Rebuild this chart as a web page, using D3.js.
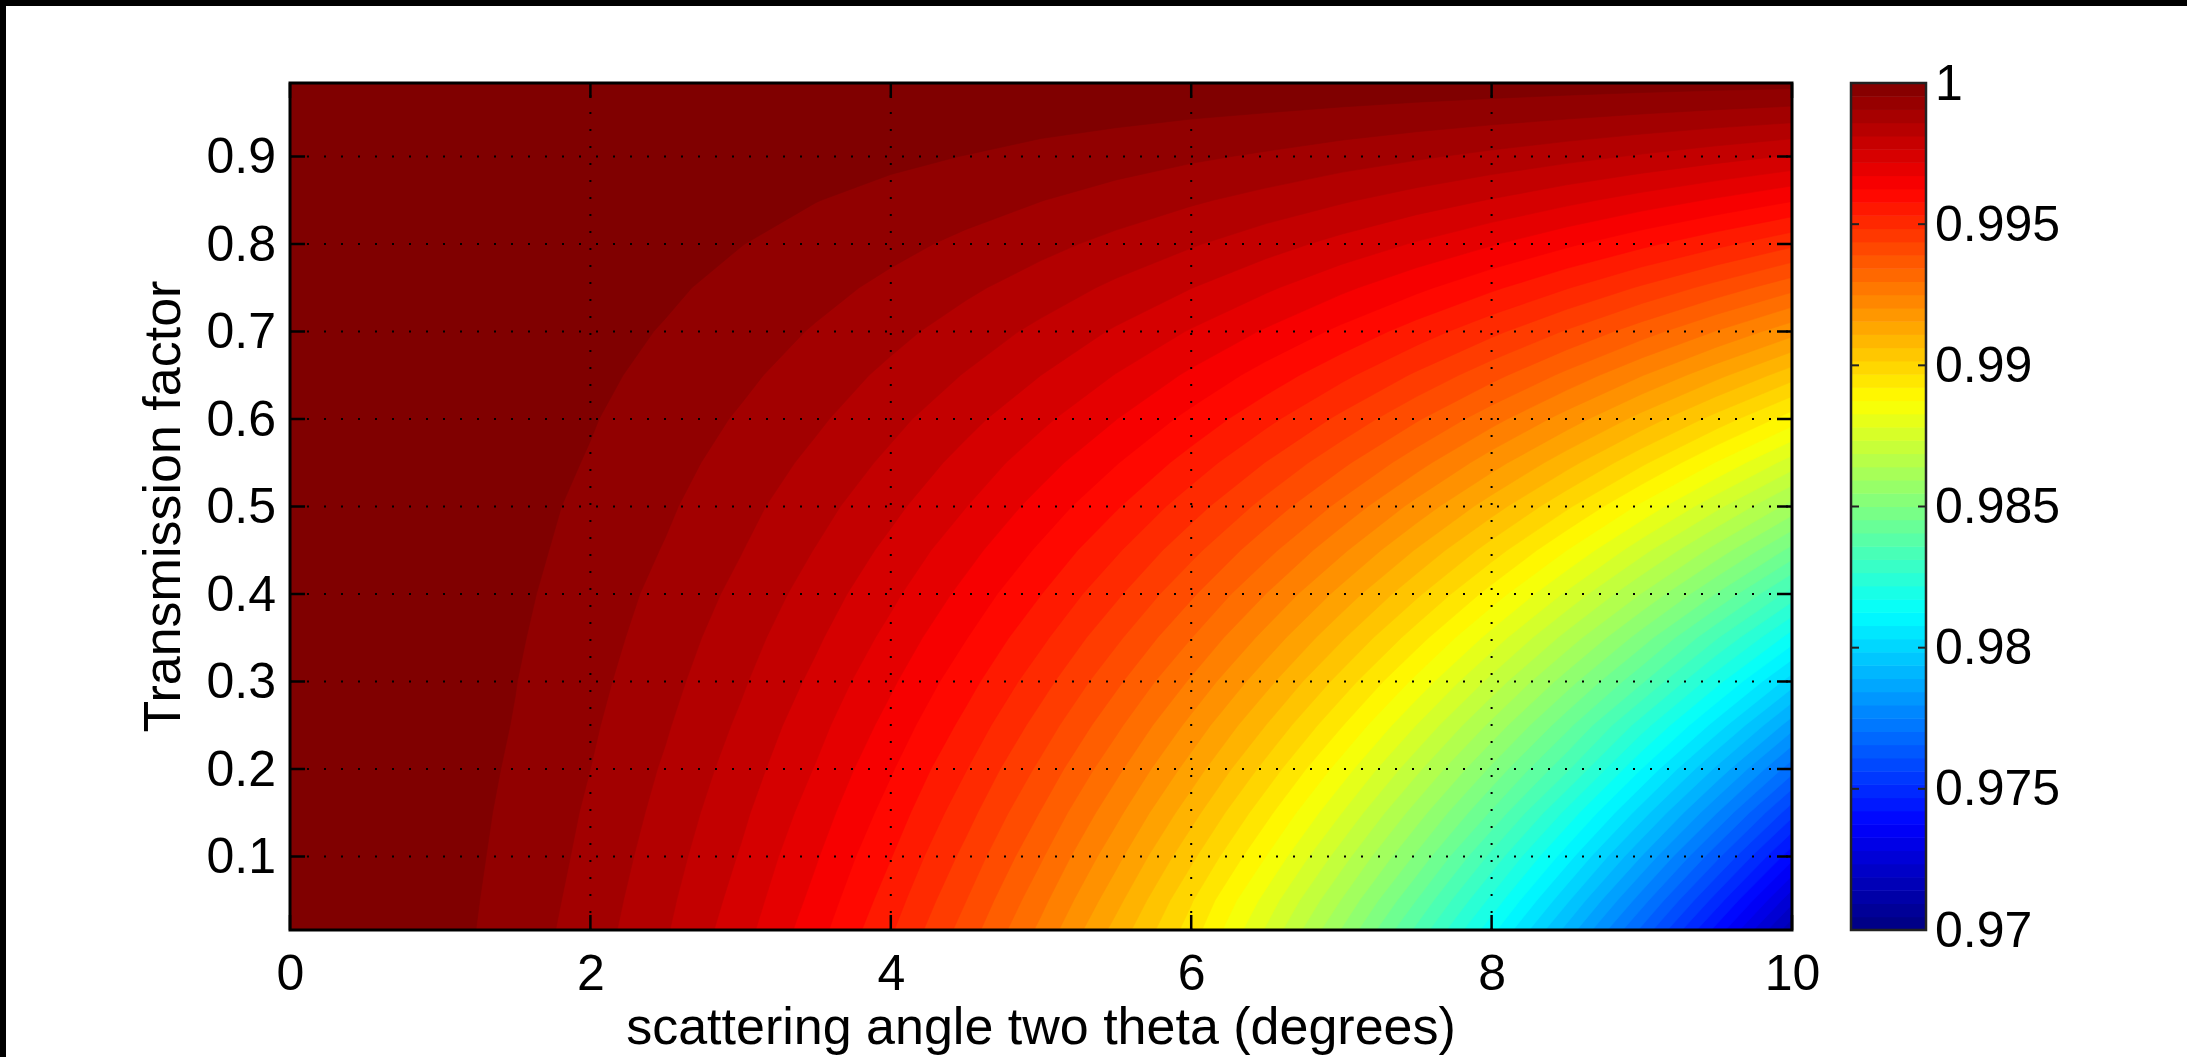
<!DOCTYPE html>
<html><head><meta charset="utf-8">
<script src="https://cdn.jsdelivr.net/npm/d3@7"></script>
<style>
html,body{margin:0;padding:0;background:#fff;overflow:hidden;}
svg{display:block;}
text{font-family:"Liberation Sans",Arial,Helvetica,sans-serif;fill:#000;}
</style></head><body>
<svg id="chart" width="2187" height="1057"></svg>
<script>
// ---- data ----
const angles = [0,0.5,1,1.5,2,2.5,3,3.5,4,4.5,5,5.5,6,6.5,7,7.5,8,8.5,9,9.5,10];
const transmission = [0.016,0.05,0.1,0.15,0.2,0.25,0.3,0.35,0.4,0.45,0.5,0.55,0.6,0.65,0.7,0.75,0.8,0.85,0.9,0.95,0.984];
const r0016 = [1,0.99992,0.99969,0.99929,0.99875,0.99805,0.99720,0.99620,0.99506,0.99378,0.99237,0.99082,0.98926,0.98743,0.98547,0.98338,0.98117,0.97883,0.97638,0.97381,0.97113];
const r005 = [1,0.99992,0.99970,0.99932,0.99880,0.99812,0.99731,0.99635,0.99525,0.99401,0.99265,0.99116,0.98955,0.98782,0.98598,0.98399,0.98186,0.97960,0.97723,0.97475,0.97215];
const r010 = [1,0.99993,0.99972,0.99936,0.99887,0.99823,0.99746,0.99655,0.99552,0.99435,0.99306,0.99165,0.99012,0.98849,0.98674,0.98490,0.98286,0.98073,0.97848,0.97613,0.97367];
const r015 = [1,0.99993,0.99973,0.99940,0.99893,0.99834,0.99761,0.99676,0.99579,0.99469,0.99347,0.99214,0.99070,0.98915,0.98751,0.98576,0.98393,0.98186,0.97974,0.97751,0.97518];
const r020 = [1,0.99994,0.99975,0.99944,0.99900,0.99844,0.99777,0.99697,0.99605,0.99502,0.99388,0.99263,0.99128,0.98982,0.98827,0.98663,0.98490,0.98309,0.98099,0.97889,0.97670];
const r025 = [1,0.99994,0.99977,0.99948,0.99907,0.99855,0.99792,0.99717,0.99632,0.99536,0.99429,0.99312,0.99185,0.99049,0.98904,0.98749,0.98587,0.98416,0.98224,0.98028,0.97822];
const r030 = [1,0.99995,0.99978,0.99951,0.99914,0.99866,0.99807,0.99738,0.99658,0.99569,0.99470,0.99361,0.99243,0.99116,0.98980,0.98836,0.98684,0.98524,0.98357,0.98166,0.97974];
const r035 = [1,0.99995,0.99980,0.99955,0.99921,0.99876,0.99822,0.99758,0.99685,0.99602,0.99511,0.99410,0.99301,0.99183,0.99057,0.98923,0.98781,0.98632,0.98476,0.98304,0.98126];
const r040 = [1,0.99995,0.99982,0.99959,0.99927,0.99886,0.99837,0.99778,0.99711,0.99635,0.99551,0.99459,0.99358,0.99249,0.99133,0.99010,0.98879,0.98741,0.98597,0.98446,0.98278];
const r045 = [1,0.99996,0.99983,0.99963,0.99934,0.99897,0.99852,0.99798,0.99737,0.99668,0.99591,0.99507,0.99415,0.99316,0.99210,0.99096,0.98976,0.98850,0.98717,0.98579,0.98434];
const r050 = [1,0.99996,0.99985,0.99966,0.99940,0.99907,0.99866,0.99818,0.99763,0.99701,0.99631,0.99555,0.99472,0.99382,0.99286,0.99183,0.99074,0.98959,0.98838,0.98712,0.98580];
const r055 = [1,0.99997,0.99987,0.99970,0.99947,0.99917,0.99881,0.99838,0.99789,0.99733,0.99671,0.99603,0.99529,0.99448,0.99362,0.99270,0.99172,0.99069,0.98960,0.98846,0.98726];
const r060 = [1,0.99997,0.99988,0.99974,0.99953,0.99927,0.99895,0.99858,0.99814,0.99765,0.99711,0.99651,0.99585,0.99514,0.99438,0.99356,0.99269,0.99178,0.99081,0.98980,0.98874];
const r065 = [1,0.99997,0.99990,0.99977,0.99960,0.99937,0.99910,0.99877,0.99839,0.99797,0.99750,0.99698,0.99641,0.99579,0.99513,0.99442,0.99367,0.99287,0.99202,0.99114,0.99021];
const r070 = [1,0.99998,0.99991,0.99981,0.99966,0.99947,0.99924,0.99896,0.99864,0.99828,0.99788,0.99744,0.99696,0.99644,0.99588,0.99527,0.99463,0.99395,0.99323,0.99247,0.99168];
const r075 = [1,0.99998,0.99993,0.99984,0.99972,0.99957,0.99937,0.99915,0.99889,0.99859,0.99827,0.99790,0.99751,0.99708,0.99661,0.99612,0.99559,0.99503,0.99443,0.99381,0.99315];
const r080 = [1,0.99999,0.99995,0.99988,0.99978,0.99966,0.99951,0.99933,0.99913,0.99890,0.99864,0.99836,0.99805,0.99771,0.99734,0.99695,0.99654,0.99609,0.99562,0.99513,0.99461];
const r085 = [1,0.99999,0.99996,0.99991,0.99984,0.99975,0.99964,0.99951,0.99937,0.99920,0.99901,0.99880,0.99857,0.99833,0.99806,0.99777,0.99747,0.99714,0.99679,0.99643,0.99604];
const r090 = [1,0.99999,0.99997,0.99994,0.99990,0.99984,0.99977,0.99969,0.99959,0.99949,0.99936,0.99923,0.99908,0.99893,0.99875,0.99857,0.99837,0.99816,0.99794,0.99770,0.99745];
const r095 = [1,1,0.99999,0.99997,0.99995,0.99993,0.99989,0.99985,0.99981,0.99976,0.99970,0.99964,0.99957,0.99950,0.99942,0.99933,0.99924,0.99914,0.99903,0.99892,0.99881];
const r0984 = [1,1,1,0.99999,0.99999,0.99998,0.99997,0.99996,0.99995,0.99993,0.99992,0.99990,0.99988,0.99986,0.99983,0.99981,0.99978,0.99975,0.99972,0.99969,0.99966];
const correction = [r0016,r005,r010,r015,r020,r025,r030,r035,r040,r045,r050,r055,r060,r065,r070,r075,r080,r085,r090,r095,r0984];

const xTicks = [0,2,4,6,8,10];
const xTickLabels = ["0","2","4","6","8","10"];
const yTicks = [0.1,0.2,0.3,0.4,0.5,0.6,0.7,0.8,0.9];
const yTickLabels = ["0.1","0.2","0.3","0.4","0.5","0.6","0.7","0.8","0.9"];
const cTicks = [0.97,0.975,0.98,0.985,0.99,0.995,1];
const cTickLabels = ["0.97","0.975","0.98","0.985","0.99","0.995","1"];
const xLabel = "scattering angle two theta (degrees)";
const yLabel = "Transmission factor";

// ---- layout ----
const W = 2187, H = 1057;
const P = {left: 290, top: 83, right: 1792, bottom: 930};
const CB = {left: 1851, right: 1926};
const tickFont = 50, labelFont = 52;

const svg = d3.select("#chart");
svg.append("rect").attr("width", W).attr("height", H).attr("fill", "#fff");
svg.append("rect").attr("x",0).attr("y",0).attr("width",W).attr("height",6).attr("fill","#000");
svg.append("rect").attr("x",0).attr("y",0).attr("width",6).attr("height",H).attr("fill","#000");

const x = d3.scaleLinear().domain([0,10]).range([P.left, P.right]);
const y = d3.scaleLinear().domain([transmission[0], transmission[transmission.length-1]]).range([P.bottom, P.top]);
const c = d3.scaleLinear().domain([0.97, 1]).range([P.bottom, P.top]);

function jet(t){
  const cl = v => Math.max(0, Math.min(1, v));
  return d3.rgb(255*cl(Math.min(4*t-1.5, -4*t+4.5)), 255*cl(Math.min(4*t-0.5, -4*t+3.5)), 255*cl(Math.min(4*t+0.5, -4*t+2.5))).formatHex();
}
const cNorm = d3.scaleLinear().domain([0.97, 1]).range([0, 1]).clamp(true);

// ---- filled contours (grid edge-replicated so corners are not cut) ----
const nx = angles.length, ny = transmission.length;
const PX = nx + 2, PY = ny + 2;
const flat = new Array(PX*PY);
for (let j = 0; j < PY; j++) for (let i = 0; i < PX; i++) {
  const oj = Math.max(0, Math.min(ny-1, j-1)), oi = Math.max(0, Math.min(nx-1, i-1));
  flat[j*PX + i] = correction[oj][oi];
}
const step = 0.0005;
const levels = d3.range(60).map(k => +(0.97 + k*step).toFixed(5));
const contours = d3.contours().size([PX, PY]).thresholds(levels).smooth(true)(flat);
// d3.contours places sample k at coordinate k + 0.5; padded sample k is original index k - 1
const ix = d3.scaleLinear().domain(d3.range(-1, nx+1)).range([angles[0]-0.5, ...angles, angles[nx-1]+0.5]);
const iy = d3.scaleLinear().domain(d3.range(-1, ny+1)).range([transmission[0]-0.02, ...transmission, transmission[ny-1]+0.02]);
const proj = d3.geoTransform({point(px, py){
  this.stream.point(x(ix(px - 1.5)), y(iy(py - 1.5)));
}});
const path = d3.geoPath(proj);

svg.append("clipPath").attr("id","clip").append("rect")
  .attr("x",P.left).attr("y",P.top).attr("width",P.right-P.left).attr("height",P.bottom-P.top);

const gC = svg.append("g").attr("clip-path","url(#clip)");
gC.selectAll("path").data(contours).join("path")
  .attr("d", path)
  .attr("fill", d => jet(cNorm(d.value + step)))
  .attr("stroke", d => jet(cNorm(d.value + step)))
  .attr("stroke-width", 0.6);

// ---- grid (dotted) ----
const gGrid = svg.append("g").attr("stroke","#000").attr("stroke-width",2).attr("stroke-dasharray","2 15");
gGrid.selectAll("line.vx").data(xTicks.filter(d => d > 0 && d < 10)).join("line")
  .attr("x1", d => x(d)).attr("x2", d => x(d)).attr("y1", P.bottom).attr("y2", P.top);
gGrid.selectAll("line.hy").data(yTicks).join("line")
  .attr("y1", d => y(d)).attr("y2", d => y(d)).attr("x1", P.left).attr("x2", P.right);

// ---- ticks (inward, all four sides) ----
const tl = 15;
const gT = svg.append("g").attr("stroke","#000").attr("stroke-width",2.5);
xTicks.forEach(d => {
  gT.append("line").attr("x1",x(d)).attr("x2",x(d)).attr("y1",P.bottom).attr("y2",P.bottom-tl);
  gT.append("line").attr("x1",x(d)).attr("x2",x(d)).attr("y1",P.top).attr("y2",P.top+tl);
});
yTicks.forEach(d => {
  gT.append("line").attr("y1",y(d)).attr("y2",y(d)).attr("x1",P.left).attr("x2",P.left+tl);
  gT.append("line").attr("y1",y(d)).attr("y2",y(d)).attr("x1",P.right).attr("x2",P.right-tl);
});
svg.append("rect").attr("x",P.left).attr("y",P.top).attr("width",P.right-P.left).attr("height",P.bottom-P.top)
  .attr("fill","none").attr("stroke","#000").attr("stroke-width",3);

// ---- axes labels via d3 axes ----
const ax = svg.append("g").attr("transform",`translate(0,${P.bottom})`)
  .call(d3.axisBottom(x).tickValues(xTicks).tickFormat((d,i) => xTickLabels[i]).tickSize(0).tickPadding(24));
const ay = svg.append("g").attr("transform",`translate(${P.left},0)`)
  .call(d3.axisLeft(y).tickValues(yTicks).tickFormat((d,i) => yTickLabels[i]).tickSize(0).tickPadding(14));
[ax, ay].forEach(g => {
  g.select(".domain").remove();
  g.attr("font-family", null).attr("font-size", null);
  g.selectAll("text").attr("font-size", tickFont).attr("fill","#000");
});

svg.append("text").attr("x", (P.left+P.right)/2).attr("y", 1044)
  .attr("text-anchor","middle").attr("font-size", labelFont).text(xLabel);
svg.append("text").attr("transform", `translate(180,${(P.top+P.bottom)/2}) rotate(-90)`)
  .attr("text-anchor","middle").attr("font-size", labelFont).text(yLabel);

// ---- colorbar ----
const nC = 64;
const cb = svg.append("g");
cb.selectAll("rect").data(d3.range(nC)).join("rect")
  .attr("x", CB.left).attr("width", CB.right-CB.left)
  .attr("y", k => c(0.97 + (k+1)*0.03/nC))
  .attr("height", k => c(0.97 + k*0.03/nC) - c(0.97 + (k+1)*0.03/nC) + 0.5)
  .attr("fill", k => jet((k+0.5)/nC));
const gCT = svg.append("g").attr("stroke","#222").attr("stroke-width",2);
cTicks.forEach(d => {
  gCT.append("line").attr("x1",CB.left).attr("x2",CB.left+8).attr("y1",c(d)).attr("y2",c(d));
  gCT.append("line").attr("x1",CB.right).attr("x2",CB.right-8).attr("y1",c(d)).attr("y2",c(d));
});
svg.append("rect").attr("x",CB.left).attr("y",P.top).attr("width",CB.right-CB.left).attr("height",P.bottom-P.top)
  .attr("fill","none").attr("stroke","#222").attr("stroke-width",2.5);
const ac = svg.append("g").attr("transform",`translate(${CB.right},0)`)
  .call(d3.axisRight(c).tickValues(cTicks).tickFormat((d,i) => cTickLabels[i]).tickSize(0).tickPadding(9));
ac.select(".domain").remove();
ac.attr("font-family", null).attr("font-size", null);
ac.selectAll("text").attr("font-size", tickFont).attr("fill","#000");
</script>
</body></html>
